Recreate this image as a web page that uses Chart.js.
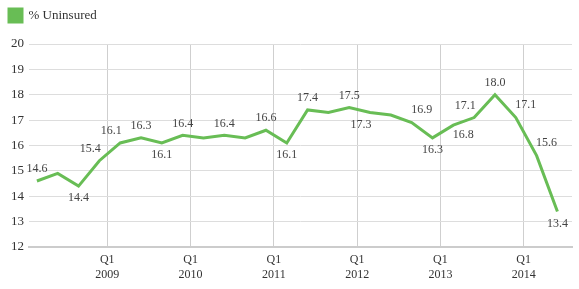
<!DOCTYPE html>
<html>
<head>
<meta charset="utf-8">
<script src="https://cdn.jsdelivr.net/npm/chart.js@4/dist/chart.umd.min.js"></script>
<style>
  body { margin: 0; background: #fff; }
  #mycanvas { display: block; }
</style>
</head>
<body>
<canvas id="mycanvas" width="579" height="289"></canvas>
<script>
// quarterly survey periods, 2008 Q1 .. 2014 Q2
var quarters = [
  '2008-1', '2008-2', '2008-3', '2008-4',
  '2009-1', '2009-2', '2009-3', '2009-4',
  '2010-1', '2010-2', '2010-3', '2010-4',
  '2011-1', '2011-2', '2011-3', '2011-4',
  '2012-1', '2012-2', '2012-3', '2012-4',
  '2013-1', '2013-2', '2013-3', '2013-4',
  '2014-1', '2014-2'
];
var uninsured = [
  14.6, 14.9, 14.4, 15.4,
  16.1, 16.3, 16.1, 16.4,
  16.3, 16.4, 16.3, 16.6,
  16.1, 17.4, 17.3, 17.5,
  17.3, 17.2, 16.9, 16.3,
  16.8, 17.1, 18.0, 17.1,
  15.6, 13.4
];
var yearTicks = [2009, 2010, 2011, 2012, 2013, 2014];
var seriesName = '% Uninsured';

// where each value label sits (null = no label)
var labelSpots = [
  't', null, 'b', 'tl', 'tl', 't', 'b', 't', null, 't', null, 't', 'b',
  't', null, 't', 'bl', null, 'tr', 'b', 'br', 'tl', 't', 'tr', 'tr', 'b'
];
var spotOffsets = {
  t: [0, -12], b: [0, 12], tl: [-9, -12], bl: [-9, 12], tr: [10, -13], br: [10, 10]
};

var FONT = '"Liberation Serif", "Times New Roman", serif';
var GREEN = '#68bd55';

var points = [];
for (var i = 0; i < quarters.length; i++) {
  var parts = quarters[i].split('-');
  var x = parseInt(parts[0]) + (parseInt(parts[1]) - 1) / 4 + 0.155; // plotted mid-period
  points.push({x: x, y: uninsured[i]});
}

// extra room under the legend
var legendGap = {
  id: 'legendGap',
  beforeInit: function(chart) {
    var fit = chart.legend.fit;
    chart.legend.fit = function() {
      fit.bind(chart.legend)();
      this.height += 12;
    };
  }
};

var valueLabels = {
  id: 'valueLabels',
  afterDatasetsDraw: function(chart) {
    var ctx = chart.ctx;
    var meta = chart.getDatasetMeta(0);
    ctx.save();
    ctx.font = '12px ' + FONT;
    ctx.fillStyle = '#444';
    ctx.textAlign = 'center';
    ctx.textBaseline = 'middle';
    meta.data.forEach(function(pt, idx) {
      var spot = labelSpots[idx];
      if (!spot) return;
      var off = spotOffsets[spot];
      ctx.fillText(uninsured[idx].toFixed(1), pt.x + off[0], pt.y + off[1]);
    });
    ctx.restore();
  }
};

var ctx = document.getElementById('mycanvas').getContext('2d');
var chart = new Chart(ctx, {
  type: 'line',
  data: {
    datasets: [{
      label: seriesName,
      data: points,
      borderColor: GREEN,
      backgroundColor: GREEN,
      borderWidth: 3,
      pointRadius: 0,
      tension: 0,
      fill: false
    }]
  },
  options: {
    responsive: false,
    animation: false,
    layout: { padding: { left: 0, right: 7, top: 0, bottom: 0 } },
    plugins: {
      legend: {
        align: 'start',
        labels: {
          boxWidth: 13,
          boxHeight: 13,
          padding: 9,
          color: '#333',
          font: { family: FONT, size: 13 }
        }
      },
      tooltip: { enabled: false }
    },
    scales: {
      x: {
        type: 'linear',
        min: 2008.06,
        max: 2014.58,
        afterBuildTicks: function(scale) {
          scale.ticks = yearTicks.map(function(v) { return {value: v}; });
        },
        afterFit: function(scale) { scale.height = 42; },
        grid: { color: '#cfcfcf', drawTicks: false },
        border: { color: '#cccccc', width: 2 },
        ticks: {
          padding: 5,
          color: '#333',
          maxRotation: 0,
          autoSkip: false,
          font: { family: FONT, size: 12, lineHeight: 1.25 },
          callback: function(v) { return ['Q1', String(v)]; }
        }
      },
      y: {
        min: 12,
        max: 20,
        afterFit: function(scale) { scale.width = 29; },
        grid: { color: '#dddddd', drawTicks: false },
        border: { display: false },
        ticks: {
          stepSize: 1,
          padding: 5,
          color: '#333',
          font: { family: FONT, size: 13 }
        }
      }
    }
  },
  plugins: [legendGap, valueLabels]
});
</script>
</body>
</html>
